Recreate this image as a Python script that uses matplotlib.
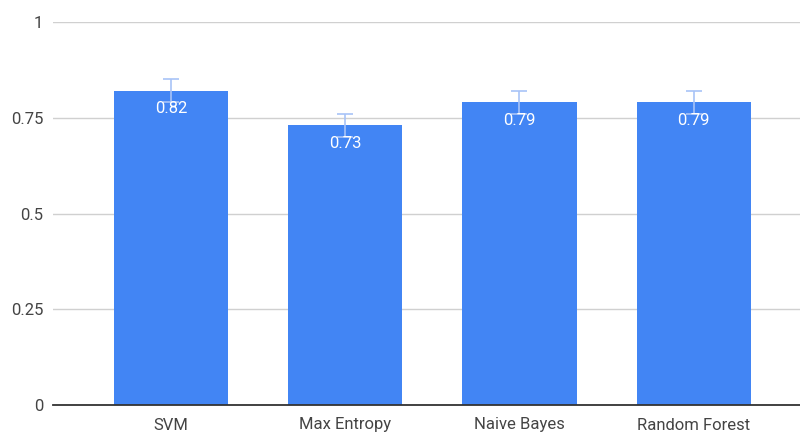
import matplotlib
matplotlib.use("Agg")
import matplotlib.pyplot as plt

categories = ["SVM", "Max Entropy", "Naive Bayes", "Random Forest"]
scores = [0.82, 0.73, 0.79, 0.79]
errors = [0.03, 0.03, 0.03, 0.03]
yticks = [0, 0.25, 0.5, 0.75, 1]
ytick_labels = ["0", "0.25", "0.5", "0.75", "1"]

plt.rcParams["font.family"] = ["Roboto", "DejaVu Sans"]

fig = plt.figure(figsize=(8, 4.34), dpi=100)
ax = fig.add_axes([53 / 800, 29 / 434, 1 - 53 / 800, (405 - 22) / 434])

x = list(range(len(categories)))
bars = ax.bar(x, scores, width=0.655, color="#4285F4", zorder=2)
ax.errorbar(x, scores, yerr=errors, fmt="none", ecolor="#a8c3f7",
            elinewidth=1.2, capsize=6, capthick=1.2, zorder=3)

for xi, v in zip(x, scores):
    ax.annotate(f"{v:.2f}", (xi, v), xytext=(0, -13), textcoords="offset points",
                ha="center", va="center", color="white", fontsize=12, zorder=4)

ax.set_xlim(-0.677, 3.61)
ax.set_ylim(0, 1)
ax.set_xticks(x)
ax.set_xticklabels(categories)
ax.set_yticks(yticks)
ax.set_yticklabels(ytick_labels)
ax.tick_params(axis="both", length=0, labelsize=12, labelcolor="#444444")
ax.tick_params(axis="x", pad=9)
ax.tick_params(axis="y", pad=7)
ax.grid(axis="y", color="#d0d0d0", linewidth=1, zorder=0)
for s in ["top", "right", "left"]:
    ax.spines[s].set_visible(False)
ax.spines["bottom"].set_color("#333333")
ax.spines["bottom"].set_linewidth(1.3)
ax.spines["bottom"].set_zorder(5)

fig.savefig("out.png", dpi=100)
